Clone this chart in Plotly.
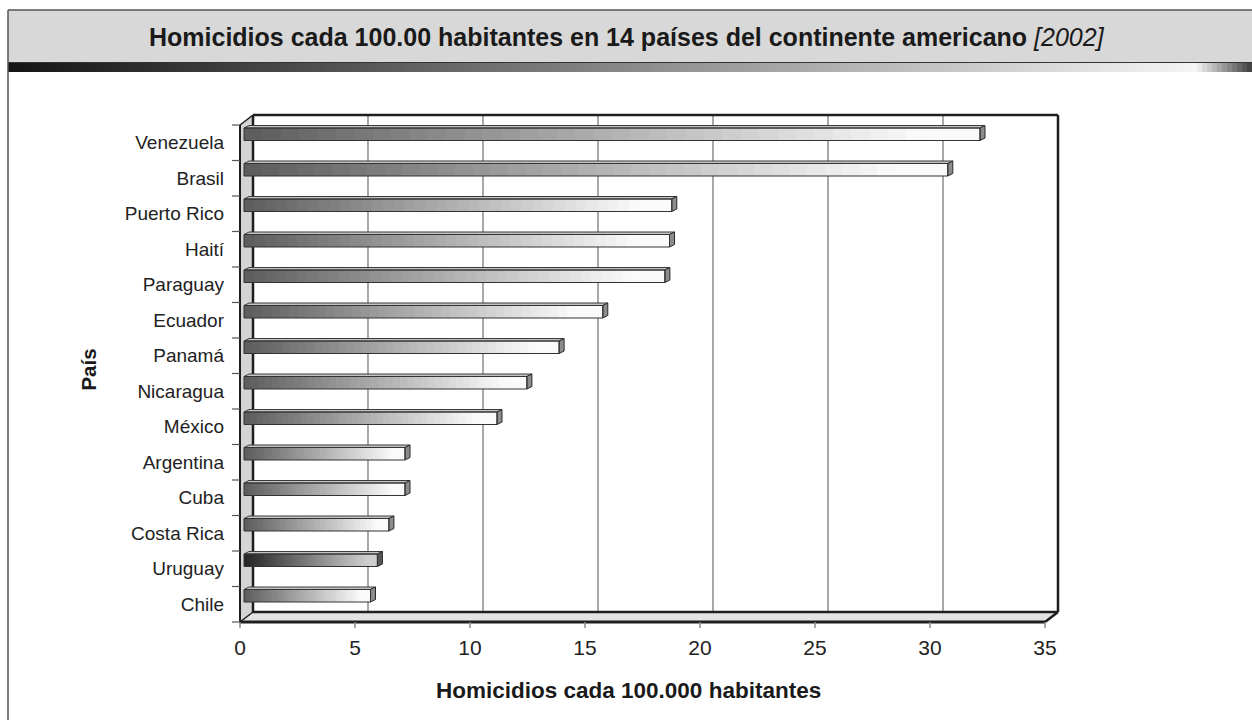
import plotly.graph_objects as go

# ---- data -------------------------------------------------------------
paises = ["Venezuela", "Brasil", "Puerto Rico", "Haití", "Paraguay", "Ecuador",
          "Panamá", "Nicaragua", "México", "Argentina", "Cuba", "Costa Rica",
          "Uruguay", "Chile"]
tasas = [32.0, 30.6, 18.6, 18.5, 18.3, 15.6, 13.7, 12.3, 11.0, 7.0, 7.0, 6.3, 5.8, 5.5]
destacado = "Uruguay"
x_ticks = [0, 5, 10, 15, 20, 25, 30, 35]

titulo = "Homicidios cada 100.00 habitantes en 14 países del continente americano"
anio = "[2002]"
x_titulo = "Homicidios cada 100.000 habitantes"
y_titulo = "País"

# ---- geometry (pixels) ------------------------------------------------
W, H = 1252, 720
FX0, FY0 = 240, 125          # front-left / front-top corner of the box
SX, SY = 23.0, 35.5          # px per unit, px per category
DEPTH_X, DEPTH_Y = 13, 10    # perspective offset of the back wall
BAR_DX, BAR_DY = 5, 2.5      # depth of each bar
BAR_X0 = 4                   # bars start slightly inside the front plane
X_MAX = x_ticks[-1]
N_CAT = len(paises)

PAD_L, PAD_R, PAD_T, PAD_B = 8, 4, 4, 6
ML = FX0 - PAD_L
MT = FY0 - DEPTH_Y - PAD_T
front_bottom = FY0 + N_CAT * SY
MB = H - (front_bottom + PAD_B)
MR = W - (FX0 + X_MAX * SX + DEPTH_X + PAD_R)
PW = W - ML - MR
PH = H - MT - MB

FONT = "Liberation Sans, Arial, Helvetica, sans-serif"


def px(dx):
    return dx / SX


def py(dy):
    return dy / SY


def xd(p):   # absolute pixel -> x data
    return (p - FX0) / SX


def yd(p):   # absolute pixel -> y data (reversed axis)
    return -0.5 + (p - FY0) / SY


def xp(p):   # absolute pixel -> paper x
    return (p - ML) / PW


def ypp(p):  # absolute pixel -> paper y
    return 1 - (p - MT) / PH


def poly(pts):
    return "M " + " L ".join(f"{a},{b}" for a, b in pts) + " Z"


fig = go.Figure()
shapes = []

Y_FRONT_TOP, Y_FRONT_BOT = -0.5, N_CAT - 0.5
Y_BACK_TOP, Y_BACK_BOT = Y_FRONT_TOP - py(DEPTH_Y), Y_FRONT_BOT - py(DEPTH_Y)
X_BACK = px(DEPTH_X)
EDGE = "#1e1e1e"

# left side wall
shapes.append(dict(type="path", layer="below", xref="x", yref="y",
                   path=poly([(0, Y_FRONT_BOT), (0, Y_FRONT_TOP),
                              (X_BACK, Y_BACK_TOP), (X_BACK, Y_BACK_BOT)]),
                   fillcolor="#d4d4d4", line=dict(width=0)))
# floor
shapes.append(dict(type="path", layer="below", xref="x", yref="y",
                   path=poly([(0, Y_FRONT_BOT), (X_MAX, Y_FRONT_BOT),
                              (X_MAX + X_BACK, Y_BACK_BOT), (X_BACK, Y_BACK_BOT)]),
                   fillcolor="#e3e3e3", line=dict(width=0)))
# gridlines on the back wall
for v in x_ticks[1:-1]:
    shapes.append(dict(type="line", layer="below", xref="x", yref="y",
                       x0=v + X_BACK, x1=v + X_BACK, y0=Y_BACK_TOP, y1=Y_BACK_BOT,
                       line=dict(color="#7a7a7a", width=1.3)))
# box edges
edges = [
    ((X_BACK, Y_BACK_TOP), (X_MAX + X_BACK, Y_BACK_TOP), 2.5),
    ((X_MAX + X_BACK, Y_BACK_TOP), (X_MAX + X_BACK, Y_BACK_BOT), 2.5),
    ((X_BACK, Y_BACK_TOP), (X_BACK, Y_BACK_BOT), 2.5),
    ((X_BACK, Y_BACK_BOT), (X_MAX + X_BACK, Y_BACK_BOT), 2.5),
    ((0, Y_FRONT_TOP), (0, Y_FRONT_BOT), 2),
    ((0, Y_FRONT_TOP), (X_BACK, Y_BACK_TOP), 1.5),
    ((0, Y_FRONT_BOT), (X_BACK, Y_BACK_BOT), 1.5),
    ((0, Y_FRONT_BOT), (X_MAX, Y_FRONT_BOT), 3),
    ((X_MAX, Y_FRONT_BOT), (X_MAX + X_BACK, Y_BACK_BOT), 2.5),
]
for (a0, b0), (a1, b1), w in edges:
    shapes.append(dict(type="line", layer="below", xref="x", yref="y",
                       x0=a0, y0=b0, x1=a1, y1=b1, line=dict(color=EDGE, width=w)))

# tick marks
for v in x_ticks:
    shapes.append(dict(type="line", xref="x", yref="y", layer="below",
                       x0=v, x1=v, y0=Y_FRONT_BOT, y1=Y_FRONT_BOT + py(6),
                       line=dict(color="#8a8a8a", width=1.5)))
for k in range(N_CAT + 1):
    yk = -0.5 + k
    shapes.append(dict(type="line", xref="x", yref="y", layer="below",
                       x0=-px(8), x1=0, y0=yk, y1=yk,
                       line=dict(color="#555555", width=1.2)))


# ---- bars: front face gradient as stacked slices --------------------
def lerp(c0, c1, t):
    return tuple(round(a + (b - a) * t) for a, b in zip(c0, c1))


N_SLICES = 40
X0 = px(BAR_X0)
y_center = [i - 0.5 + py(3 + 6.25) for i in range(N_CAT)]
bar_w = py(12.5)
for k in range(N_SLICES):
    t = min(1.0, (k + 0.5) / N_SLICES / 0.92)
    cols = []
    for p in paises:
        if p == destacado:
            c = lerp((35, 35, 35), (205, 205, 205), t)
        else:
            c = lerp((92, 92, 92), (250, 250, 250), t)
        cols.append("rgb(%d,%d,%d)" % c)
    seg = [v / N_SLICES for v in tasas]
    fig.add_trace(go.Bar(
        orientation="h", y=y_center, x=[s * 1.15 if k < N_SLICES - 1 else s for s in seg],
        base=[X0 + v * k / N_SLICES for v in tasas], width=bar_w,
        marker=dict(color=cols, line=dict(width=0)),
        hoverinfo="skip", showlegend=False))

for i, (p, v) in enumerate(zip(paises, tasas)):
    T = -0.5 + i
    yt, yb = T + py(3), T + py(15.5)
    xe = X0 + v
    bdx, bdy = px(BAR_DX), py(BAR_DY)
    # top face
    shapes.append(dict(type="path", xref="x", yref="y",
                       path=poly([(X0, yt), (xe, yt), (xe + bdx, yt - bdy), (X0 + bdx, yt - bdy)]),
                       fillcolor="#c4c4c4", line=dict(color="#3a3a3a", width=1)))
    # end cap
    shapes.append(dict(type="path", xref="x", yref="y",
                       path=poly([(xe, yt), (xe + bdx, yt - bdy), (xe + bdx, yb - bdy), (xe, yb)]),
                       fillcolor="#555555" if p == destacado else "#8c8c8c",
                       line=dict(color="#2a2a2a", width=1)))
    # front outline
    shapes.append(dict(type="rect", xref="x", yref="y", x0=X0, x1=xe, y0=yt, y1=yb,
                       line=dict(color="#333333", width=1)))

# ---- header band --------------------------------------------------------
HX0 = 8
shapes.append(dict(type="rect", xref="paper", yref="paper", layer="below",
                   x0=xp(HX0), x1=xp(W + 5), y0=ypp(10), y1=ypp(62),
                   fillcolor="#d8d8d8", line=dict(width=0)))
N_G = 250
for k in range(N_G):
    a = HX0 + (W - HX0) * k / N_G
    b = HX0 + (W - HX0) * (k + 1) / N_G + 0.8
    f = (k + 0.5) / N_G
    if f < 0.955:
        g = 20 + (245 - 20) * (f / 0.955)
    else:
        g = 245 - (245 - 60) * ((f - 0.955) / 0.045)
    g = int(round(g))
    shapes.append(dict(type="rect", xref="paper", yref="paper", layer="below",
                       x0=xp(a), x1=xp(b), y0=ypp(63), y1=ypp(72),
                       fillcolor=f"rgb({g},{g},{g})", line=dict(width=0)))
shapes.append(dict(type="line", xref="paper", yref="paper", layer="below",
                   x0=xp(HX0), x1=xp(W + 5), y0=ypp(62.5), y1=ypp(62.5),
                   line=dict(color="#333333", width=1.2)))
shapes.append(dict(type="line", xref="paper", yref="paper", layer="below",
                   x0=xp(HX0), x1=xp(W + 5), y0=ypp(10), y1=ypp(10),
                   line=dict(color="#555555", width=1.5)))
shapes.append(dict(type="line", xref="paper", yref="paper", layer="below",
                   x0=xp(HX0), x1=xp(HX0), y0=ypp(10), y1=ypp(H + 5),
                   line=dict(color="#555555", width=1.5)))

annotations = [
    dict(xref="paper", yref="paper", x=xp(627), y=ypp(37), xanchor="center", yanchor="middle",
         text=f"<b>{titulo}</b> <i>{anio}</i>", showarrow=False,
         font=dict(family=FONT, size=25, color="#1a1a1a")),
    dict(xref="paper", yref="paper", x=xp(628), y=ypp(690), xanchor="center", yanchor="middle",
         text=f"<b>{x_titulo}</b>", showarrow=False,
         font=dict(family=FONT, size=22.5, color="#1a1a1a")),
]

fig.update_layout(
    width=W, height=H,
    margin=dict(l=ML, r=MR, t=MT, b=MB, pad=0),
    paper_bgcolor="white", plot_bgcolor="rgba(0,0,0,0)",
    barmode="overlay", bargap=0,
    shapes=shapes, annotations=annotations,
    xaxis=dict(range=[xd(FX0 - PAD_L), xd(FX0 + X_MAX * SX + DEPTH_X + PAD_R)],
               tickvals=x_ticks, ticktext=[str(v) for v in x_ticks],
               ticks="", showgrid=False, zeroline=False, showline=False,
               ticklabelstandoff=5,
               tickfont=dict(family=FONT, size=21, color="#222222")),
    yaxis=dict(range=[yd(front_bottom + PAD_B), yd(FY0 - DEPTH_Y - PAD_T)],
               tickvals=list(range(N_CAT)), ticktext=paises,
               ticks="", showgrid=False, zeroline=False, showline=False,
               ticklabelstandoff=7,
               tickfont=dict(family=FONT, size=19, color="#222222"),
               title=dict(text=f"<b>{y_titulo}</b>", standoff=22,
                          font=dict(family=FONT, size=20.5, color="#1a1a1a"))),
)

fig.write_html("out.html")
